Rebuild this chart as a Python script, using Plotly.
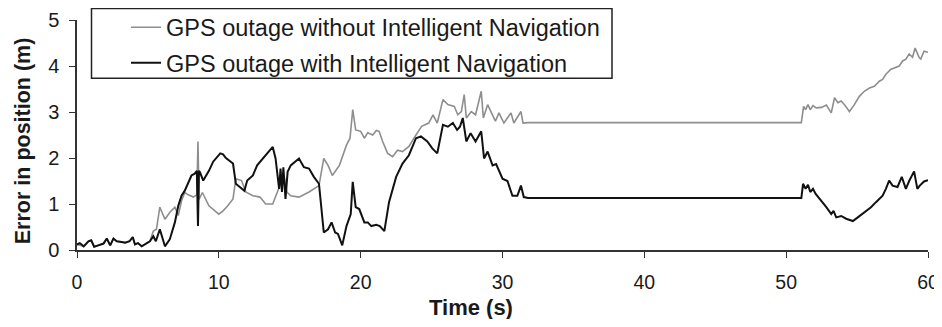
import plotly.graph_objects as go

# Time (s) and error (m) for GPS outage WITHOUT intelligent navigation (grey)
t_without = [0.0, 0.47, 0.81, 1.0, 1.21, 1.5, 1.87, 2.1, 2.34, 2.57, 2.8, 3.04, 3.4, 3.7, 3.93, 4.09, 4.3, 4.56, 4.85, 5.14,
             5.38, 5.6, 5.84, 6.2, 6.55, 6.9, 7.14, 7.37, 7.6, 7.85, 8.2, 8.45, 8.53, 8.6, 8.84, 9.3, 10.0, 10.3, 10.6, 11.0,
             11.2, 11.6, 11.9, 12.4, 12.9, 13.3, 13.8, 14.1, 14.35, 14.6, 14.8, 15.07, 15.65, 16.36, 17.06, 17.4, 17.7, 18.0, 18.5, 19.0,
             19.25, 19.44, 19.65, 20.0, 20.26, 20.5, 20.85, 21.1, 21.3, 21.55, 21.9, 22.25, 22.6, 22.95, 23.4, 23.9, 24.3, 24.8, 25.1, 25.4,
             25.8, 26.15, 26.6, 26.85, 27.1, 27.3, 27.45, 27.8, 28.1, 28.5, 28.65, 28.95, 29.3, 29.5, 29.75, 30.1, 30.6, 30.8, 31.3, 31.45,
             31.8, 51.07, 51.23, 51.37, 51.54, 51.70, 51.89, 52.12, 52.5, 52.83, 53.18, 53.41, 53.65, 53.88, 54.11, 54.46, 54.81, 55.16, 55.51, 55.87,
             56.22, 56.57, 56.80, 57.03, 57.39, 57.74, 57.97, 58.21, 58.44, 58.67, 58.91, 59.09, 59.37, 59.49, 59.72, 60.0]
err_without = [0.12, 0.08, 0.19, 0.21, 0.07, 0.1, 0.14, 0.25, 0.1, 0.25, 0.19, 0.18, 0.16, 0.19, 0.28, 0.12, 0.15, 0.08, 0.13, 0.19,
               0.41, 0.45, 0.93, 0.67, 0.82, 0.93, 0.75, 1.07, 1.25, 1.2, 1.15, 1.2, 2.36, 1.1, 1.25, 0.96, 0.78, 0.85, 0.95, 1.11,
               1.55, 1.51, 1.26, 1.18, 1.15, 1.0, 1.0, 1.26, 1.44, 1.6, 1.26, 1.18, 1.15, 1.26, 1.4, 1.99, 1.84, 1.62, 1.84, 2.28,
               2.43, 3.05, 2.61, 2.58, 2.43, 2.55, 2.5, 2.6, 2.58, 2.36, 2.1, 2.03, 2.17, 2.14, 2.25, 2.5, 2.69, 2.76, 2.94, 2.76,
               3.27, 3.16, 3.12, 2.94, 3.01, 3.38, 2.87, 3.01, 2.94, 3.45, 2.87, 3.16, 2.94, 2.8, 2.98, 2.76, 2.98, 2.76, 3.01, 2.76,
               2.77, 2.77, 3.12, 3.05, 3.16, 3.05, 3.14, 3.09, 3.1, 3.15, 2.98, 3.31, 3.2, 3.24, 3.16, 3.01, 3.16, 3.34, 3.45, 3.52,
               3.56, 3.67, 3.71, 3.82, 3.93, 3.97, 4.0, 4.11, 4.15, 4.26, 4.19, 4.39, 4.19, 4.15, 4.32, 4.3]

# Time (s) and error (m) for GPS outage WITH intelligent navigation (black)
t_with = [0.0, 0.2, 0.47, 0.81, 1.0, 1.21, 1.5, 1.87, 2.1, 2.34, 2.57, 2.8, 3.04, 3.4, 3.7, 3.93, 4.09, 4.3, 4.56, 4.85,
          5.14, 5.38, 5.56, 5.84, 6.2, 6.54, 6.9, 7.14, 7.37, 7.6, 7.84, 8.07, 8.3, 8.45, 8.53, 8.6, 8.67, 8.9, 9.3, 9.6,
          10.1, 10.3, 10.5, 11.0, 11.2, 11.5, 11.8, 12.0, 12.4, 12.7, 13.1, 13.4, 13.8, 14.0, 14.25, 14.35, 14.45, 14.55, 14.7, 14.85,
          15.07, 15.65, 16.0, 16.36, 16.7, 17.06, 17.4, 17.7, 17.95, 18.2, 18.4, 18.7, 19.0, 19.3, 19.44, 19.65, 19.9, 20.26, 20.5, 20.75,
          21.1, 21.35, 21.67, 22.0, 22.5, 22.95, 23.4, 23.9, 24.25, 24.7, 25.05, 25.4, 25.8, 26.15, 26.5, 26.8, 27.0, 27.2, 27.45, 27.75,
          28.1, 28.5, 28.7, 28.95, 29.3, 29.55, 29.8, 30.0, 30.35, 30.7, 31.05, 31.3, 31.5, 31.8, 51.07, 51.19, 51.37, 51.54, 51.70, 51.89,
          52.08, 52.36, 52.59, 52.83, 53.18, 53.34, 53.53, 53.88, 54.23, 54.70, 55.05, 55.51, 55.98, 56.33, 56.80, 57.03, 57.26, 57.50, 57.85, 58.15,
          58.44, 58.67, 59.02, 59.25, 59.42, 59.72, 60.0]
err_with = [0.12, 0.15, 0.08, 0.19, 0.21, 0.07, 0.1, 0.14, 0.25, 0.1, 0.25, 0.19, 0.18, 0.16, 0.19, 0.28, 0.12, 0.15, 0.08, 0.13,
            0.19, 0.3, 0.19, 0.45, 0.08, 0.23, 0.6, 0.96, 1.18, 1.29, 1.47, 1.62, 1.66, 1.72, 0.52, 1.72, 1.69, 1.51, 1.72, 1.92,
            2.1, 2.08, 2.0, 1.88, 1.44, 1.37, 1.29, 1.51, 1.62, 1.84, 1.99, 2.1, 2.24, 1.99, 1.33, 1.77, 1.26, 1.8, 1.11, 1.7,
            1.84, 1.99, 1.8, 1.77, 1.59, 1.44, 0.38, 0.45, 0.6, 0.38, 0.35, 0.1, 0.52, 0.78, 1.48, 0.93, 0.89, 0.6, 0.6, 0.52,
            0.55, 0.52, 0.41, 1.04, 1.59, 1.88, 2.06, 2.43, 2.47, 2.36, 2.21, 2.1, 2.72, 2.68, 2.76, 2.61, 2.68, 2.87, 2.36, 2.54,
            2.36, 2.58, 1.99, 2.14, 1.84, 1.87, 1.7, 1.55, 1.5, 1.18, 1.18, 1.4, 1.15, 1.13, 1.13, 1.44, 1.33, 1.42, 1.26, 1.33,
            1.22, 1.11, 1.04, 0.93, 0.78, 0.85, 0.71, 0.74, 0.68, 0.63, 0.71, 0.82, 0.93, 1.04, 1.18, 1.33, 1.51, 1.4, 1.37, 1.59,
            1.33, 1.5, 1.71, 1.33, 1.4, 1.49, 1.52]

x_ticks = [0, 10, 20, 30, 40, 50, 60]
y_ticks = [0, 1, 2, 3, 4, 5]
x_title = "Time (s)"
y_title = "Error in position (m)"

FONT = "Liberation Sans, Arial, sans-serif"

# The page body adds an 8 px offset, so the figure is laid out in page pixels minus 8,
# and kept small enough vertically that the page does not scroll.
OFF = 8
W, H = 942 - OFF, 327 - 2 * OFF
PX0, PX1 = 77 - OFF, 928 - OFF      # plot area left/right (figure px)
PY0, PY1 = 20 - OFF, 250.5 - OFF    # plot area top/bottom (figure px)
ML, MR, MT, MB = PX0, W - PX1, PY0, H - PY1
PW, PH = PX1 - PX0, PY1 - PY0

def fx(px):
    return (px - OFF - PX0) / PW

def fy(py):
    return (PY1 - (py - OFF)) / PH

fig = go.Figure()
fig.add_trace(go.Scatter(x=t_without, y=err_without, mode="lines",
                         name="GPS outage without Intelligent Navigation",
                         line=dict(color="#8e8e8e", width=1.6), legendgroup="a"))
fig.add_trace(go.Scatter(x=t_with, y=err_with, mode="lines",
                         name="GPS outage with Intelligent Navigation",
                         line=dict(color="#111111", width=2), legendgroup="b"))

fig.update_layout(
    width=W, height=H,
    margin=dict(l=ML, r=MR, t=MT, b=MB, autoexpand=False),
    paper_bgcolor="white", plot_bgcolor="white",
    font=dict(family=FONT, color="#1a1a1a", size=20),
    showlegend=True,
    legend=dict(x=fx(126), y=fy(5.5), xanchor="left", yanchor="top",
                bgcolor="rgba(0,0,0,0)", borderwidth=0,
                font=dict(size=23.5, family=FONT, color="#1a1a1a"),
                traceorder="grouped", tracegroupgap=2),
    shapes=[dict(type="rect", xref="paper", yref="paper",
                 x0=fx(91.5), x1=fx(612), y0=fy(78.5), y1=fy(8.5),
                 line=dict(color="#222222", width=1.5), fillcolor="white", layer="below")],
    annotations=[
        dict(text="<b>%s</b>" % x_title, xref="paper", yref="paper", x=fx(471), y=fy(308),
             xanchor="center", yanchor="middle", showarrow=False,
             font=dict(size=22, family=FONT, color="#1a1a1a")),
        dict(text="<b>%s</b>" % y_title, xref="paper", yref="paper", x=fx(22.5), y=fy(141),
             xanchor="center", yanchor="middle", showarrow=False, textangle=-90,
             font=dict(size=21.5, family=FONT, color="#1a1a1a")),
    ],
)

fig.update_xaxes(range=[0, 60], tickvals=x_ticks, ticks="outside", ticklen=6, tickwidth=1.2,
                 tickcolor="#333", showline=True, linecolor="#333", linewidth=1.5,
                 showgrid=False, zeroline=False, ticklabelstandoff=8, automargin=False,
                 ticklabeloverflow="allow",
                 tickfont=dict(size=19.5, family=FONT))
fig.update_yaxes(range=[0, 5], tickvals=y_ticks, ticks="outside", ticklen=6, tickwidth=1.2,
                 tickcolor="#333", showline=True, linecolor="#333", linewidth=1.5,
                 showgrid=False, zeroline=False, ticklabelstandoff=6, automargin=False,
                 tickfont=dict(size=20, family=FONT))

fig.write_html("out.html")
